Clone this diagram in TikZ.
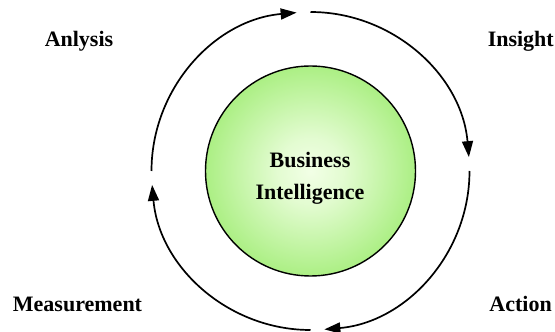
\documentclass[tikz,border=0pt]{standalone}
\usepackage{fontspec}
\setmainfont{Liberation Serif}
\usetikzlibrary{arrows.meta}
\definecolor{bicore}{RGB}{242,255,230}
\definecolor{biedge}{RGB}{140,232,88}
\pgfdeclareradialshading{biglow}{\pgfpointorigin}{%
  color(0bp)=(bicore); color(8bp)=(bicore!85!biedge); color(30bp)=(biedge!85!bicore); color(50bp)=(biedge)}
\tikzset{
  stage/.style={font=\bfseries\fontsize{22}{26}\selectfont, inner sep=0pt},
  cycle/.style={line width=1.7pt, -{Triangle[length=16pt,width=11pt]}},
}
\begin{document}
\begin{tikzpicture}[x=1pt,y=1pt]
  \useasboundingbox (0,0) rectangle (555,332);
  % centre of the cycle
  \coordinate (o) at (310.5,161);
  % core circle
  \node (bi) [circle, draw=black, line width=1.4pt, minimum size=210pt, inner sep=0pt,
              shading=biglow] at (o) {};
  \node (bi1) [stage, anchor=base] at (310,164) {Business};
  \node (bi2) [stage, anchor=base] at (310,132) {Intelligence};
  % the four arcs of the cycle, clockwise
  \draw[cycle] ([shift={(180:159pt)}]o) arc[start angle=180, end angle=95, radius=159pt];
  \draw[cycle] ([shift={(90:159pt)}]o) arc[start angle=90, end angle=5, radius=159pt];
  \draw[cycle] ([shift={(0:159pt)}]o) arc[start angle=0, end angle=-85, radius=159pt];
  \draw[cycle] ([shift={(-90:159pt)}]o) arc[start angle=-90, end angle=-175, radius=159pt];
  % stage labels
  \node (an) [stage, anchor=base] at (79,285) {Anlysis};
  \node (in) [stage, anchor=base east] at (554,285) {Insight};
  \node (me) [stage, anchor=base] at (77.5,20) {Measurement};
  \node (ac) [stage, anchor=base east] at (552,20) {Action};
\end{tikzpicture}
\end{document}
